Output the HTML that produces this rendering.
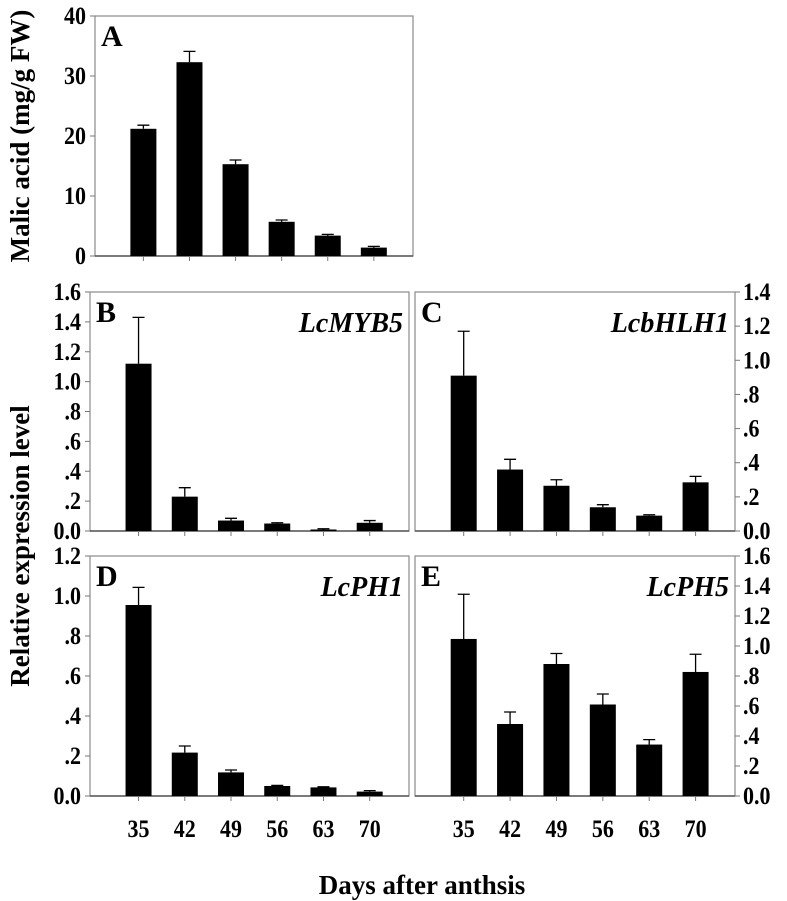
<!DOCTYPE html>
<html><head><meta charset="utf-8">
<style>
html,body{margin:0;padding:0;background:#fff;}
svg{display:block;font-family:"Liberation Serif",serif;font-weight:bold;}
</style></head>
<body>
<svg id="chart" width="787" height="901" viewBox="0 0 787 901" xmlns="http://www.w3.org/2000/svg">
<text transform="translate(29,136) rotate(-90)" text-anchor="middle" font-size="27">Malic acid (mg/g FW)</text>
<text transform="translate(29,546) rotate(-90)" text-anchor="middle" font-size="27">Relative expression level</text>
<text x="422" y="894" text-anchor="middle" font-size="27">Days after anthsis</text>
</svg>
<script>
const categories = ["35","42","49","56","63","70"];
const malicValues = [21.2,32.3,15.3,5.7,3.4,1.4];
const malicErrors = [0.6,1.8,0.7,0.3,0.2,0.2];
const myb5Values = [1.12,0.23,0.07,0.05,0.01,0.055];
const myb5Errors = [0.31,0.06,0.015,0.005,0.005,0.015];
const bhlh1Values = [0.91,0.36,0.265,0.139,0.09,0.285];
const bhlh1Errors = [0.26,0.06,0.035,0.015,0.005,0.035];
const ph1Values = [0.955,0.217,0.118,0.05,0.043,0.022];
const ph1Errors = [0.088,0.033,0.012,0.003,0.003,0.005];
const ph5Values = [1.047,0.48,0.88,0.61,0.343,0.827];
const ph5Errors = [0.298,0.08,0.07,0.07,0.033,0.118];
const ticksA = [0,10,20,30,40];
const ticksLabelsA = ["0","10","20","30","40"];
const ticks16 = [0,0.2,0.4,0.6,0.8,1.0,1.2,1.4,1.6];
const labels16 = ["0.0",".2",".4",".6",".8","1.0","1.2","1.4","1.6"];
const ticks14 = [0,0.2,0.4,0.6,0.8,1.0,1.2,1.4];
const labels14 = ["0.0",".2",".4",".6",".8","1.0","1.2","1.4"];
const ticks12 = [0,0.2,0.4,0.6,0.8,1.0,1.2];
const labels12 = ["0.0",".2",".4",".6",".8","1.0","1.2"];

const NS="http://www.w3.org/2000/svg";
const svg=document.getElementById('chart');
function mk(tag,attrs,parent){const e=document.createElementNS(NS,tag);for(const k in attrs)e.setAttribute(k,attrs[k]);(parent||svg).appendChild(e);return e;}

function panel(o){
  const g=mk('g',{});
  
  
  const y=v=>o.bottom-(v/o.max)*(o.bottom-o.top);
  const band=(o.right-o.left)/6.9;
  const x=i=>o.left+band*(i+1.05);
  const fr=mk('rect',{x:o.left,y:o.top,width:o.right-o.left,height:o.bottom-o.top,fill:'none',stroke:'#8a8a8a','stroke-width':1.2},g);
  
  
  const bl=mk('line',{x1:o.left,x2:o.right,y1:o.bottom,y2:o.bottom,stroke:'#555','stroke-width':1.5},g);
  
  
  o.ticks.forEach((t,i)=>{
    const ax=o.side==='left'?o.left:o.right;
    const d=o.side==='left'?-5:5;
    const tk=mk('line',{x1:ax,x2:ax+d,y1:y(t),y2:y(t),stroke:'#777','stroke-width':1},g);
    
    
    const tx0=o.side==='left'?o.left-9:o.right+8;
    const tx=mk('text',{x:0,y:0,'font-size':25,'text-anchor':o.side==='left'?'end':'start',transform:`translate(${tx0},${y(t)+8}) scale(0.88,1)`},g);
    tx.textContent=o.labels[i];
    
    
  });
  o.values.forEach((v,i)=>{
    const cx=x(i);
    const tk=mk('line',{x1:cx,x2:cx,y1:o.bottom,y2:o.bottom+5,stroke:'#777','stroke-width':1},g);
    
    
    const er=mk('path',{d:`M${cx} ${y(v)} V${y(v+o.errors[i])} M${cx-6} ${y(v+o.errors[i])} H${cx+6}`,stroke:'#000','stroke-width':1.3,fill:'none'},g);
    
    
    const b=mk('rect',{x:cx-13,y:y(v),width:26,height:o.bottom-y(v),fill:'#000'},g);
    
    
    if(o.xlabels){
      const t=mk('text',{x:0,y:0,'font-size':25,'text-anchor':'middle',transform:`translate(${cx},837) scale(0.88,1)`},g);
      t.textContent=categories[i];
      
      
    }
  });
  const L=mk('text',{x:o.left+6,y:o.top+30,'font-size':30},g);
  L.textContent=o.letter;
  
  
  if(o.gene){
    const G=mk('text',{x:o.right-6,y:o.top+40,'font-size':28,'font-style':'italic','text-anchor':'end'},g);
    G.textContent=o.gene;
    
    
  }
}
panel({id:'a',letter:'A',left:95,right:413,top:16,bottom:256,max:40,ticks:ticksA,labels:ticksLabelsA,values:malicValues,errors:malicErrors,side:'left'});
panel({id:'b',letter:'B',gene:'LcMYB5',left:90,right:409,top:292,bottom:531,max:1.6,ticks:ticks16,labels:labels16,values:myb5Values,errors:myb5Errors,side:'left'});
panel({id:'c',letter:'C',gene:'LcbHLH1',left:415,right:735,top:292,bottom:531,max:1.4,ticks:ticks14,labels:labels14,values:bhlh1Values,errors:bhlh1Errors,side:'right'});
panel({id:'d',letter:'D',gene:'LcPH1',left:90,right:409,top:556,bottom:796,max:1.2,ticks:ticks12,labels:labels12,values:ph1Values,errors:ph1Errors,side:'left',xlabels:true});
panel({id:'e',letter:'E',gene:'LcPH5',left:415,right:735,top:556,bottom:796,max:1.6,ticks:ticks16,labels:labels16,values:ph5Values,errors:ph5Errors,side:'right',xlabels:true});
</script>
</body></html>
